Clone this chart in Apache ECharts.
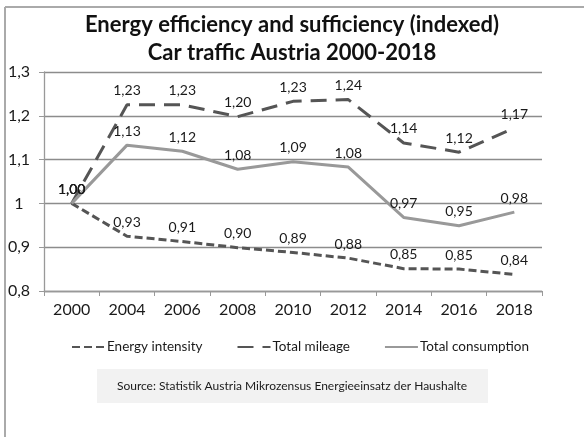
<!DOCTYPE html>
<html lang="en">
<head>
<meta charset="UTF-8"/>
<title>Car traffic Austria</title>
<script src="https://cdn.jsdelivr.net/npm/echarts@6/dist/echarts.min.js"></script>
<style>
  html, body { margin: 0; padding: 0; background: #fff; }
  #main { width: 584px; height: 437px; }
</style>
</head>
<body>
<div id="main"></div>
<script>
// data
var years = ['2000', '2004', '2006', '2008', '2010', '2012', '2014', '2016', '2018'];
var energyIntensity = [1.00, 0.925, 0.913, 0.899, 0.888, 0.875, 0.851, 0.850, 0.838];
var totalMileage = [1.00, 1.225, 1.225, 1.198, 1.233, 1.237, 1.138, 1.117, 1.172];
var totalConsumption = [1.00, 1.133, 1.119, 1.078, 1.095, 1.083, 0.968, 0.949, 0.980];

var FONT = 'Lato';

function comma(v, d) {
    return v.toFixed(d).replace('.', ',');
}

var chart = echarts.init(document.getElementById('main'));

// label style shared by all three lines
var lbl = {
    show: true,
    position: 'top',
    distance: 7,
    fontFamily: FONT,
    fontSize: 14,
    color: '#1a1a1a',
    formatter: function (p) { return comma(p.value, 2); }
};

chart.setOption({
    animation: false,
    textStyle: { fontFamily: FONT },
    title: {
        text: 'Energy efficiency and sufficiency (indexed)\nCar traffic Austria 2000-2018',
        left: 'center',
        top: 6,
        textStyle: {
            fontFamily: FONT,
            fontSize: 22,
            lineHeight: 28,
            fontWeight: 'bold',
            color: '#111'
        }
    },
    legend: {
        top: 335,
        left: 66,
        itemWidth: 33,
        itemHeight: 3,
        itemGap: 34,
        itemStyle: { opacity: 0 },
        textStyle: { fontFamily: FONT, fontSize: 13.5, color: '#1a1a1a', padding: [0, 0, 0, -3] },
        data: ['Energy intensity', 'Total mileage', 'Total consumption']
    },
    grid: { left: 44, right: 42, top: 72, bottom: 146 },
    xAxis: {
        type: 'category',
        data: years,
        boundaryGap: true,
        axisLine: { lineStyle: { color: '#999', width: 1.3 } },
        axisTick: { show: true, length: 5, lineStyle: { color: '#999' } },
        axisLabel: { fontFamily: FONT, fontSize: 16, color: '#1a1a1a', margin: 11 }
    },
    yAxis: {
        type: 'value',
        min: 0.8,
        max: 1.3,
        interval: 0.1,
        axisLine: { show: true, lineStyle: { color: '#999', width: 1.3 } },
        axisTick: { show: true, length: 5, lineStyle: { color: '#999' } },
        axisLabel: {
            fontFamily: FONT, fontSize: 16, color: '#1a1a1a',
            align: 'center', margin: 25,
            formatter: function (v) { return String(Math.round(v * 10) / 10).replace('.', ','); }
        },
        splitLine: { lineStyle: { color: '#8c8c8c', width: 1.3 } }
    },
    series: [{
        name: 'Energy intensity',
        type: 'line',
        data: energyIntensity,
        symbol: 'circle',
        symbolSize: 0,
        lineStyle: { color: '#555', width: 3, type: [8, 4] },
        itemStyle: { color: '#555' },
        label: lbl
    }, {
        name: 'Total mileage',
        type: 'line',
        data: totalMileage,
        symbol: 'circle',
        symbolSize: 0,
        lineStyle: { color: '#555', width: 3, type: [16, 9] },
        itemStyle: { color: '#555' },
        label: lbl
    }, {
        name: 'Total consumption',
        type: 'line',
        data: totalConsumption,
        symbol: 'circle',
        symbolSize: 0,
        lineStyle: { color: '#999', width: 3 },
        itemStyle: { color: '#999' },
        label: lbl
    }],
    graphic: [{
        type: 'rect',
        shape: { x: 97, y: 369, width: 391, height: 34 },
        style: { fill: '#f2f2f2' },
        z: 0
    }, {
        type: 'text',
        x: 292,
        y: 386,
        style: {
            text: 'Source: Statistik Austria Mikrozensus Energieeinsatz der Haushalte',
            fontFamily: FONT,
            fontSize: 12,
            fill: '#1a1a1a',
            align: 'center',
            verticalAlign: 'middle'
        },
        z: 1
    }, {
        type: 'line',
        shape: { x1: 5, y1: 7, x2: 584, y2: 7 },
        style: { stroke: '#aaa', lineWidth: 2 }
    }, {
        type: 'line',
        shape: { x1: 5, y1: 7, x2: 5, y2: 437 },
        style: { stroke: '#aaa', lineWidth: 2 }
    }]
});
</script>
</body>
</html>
